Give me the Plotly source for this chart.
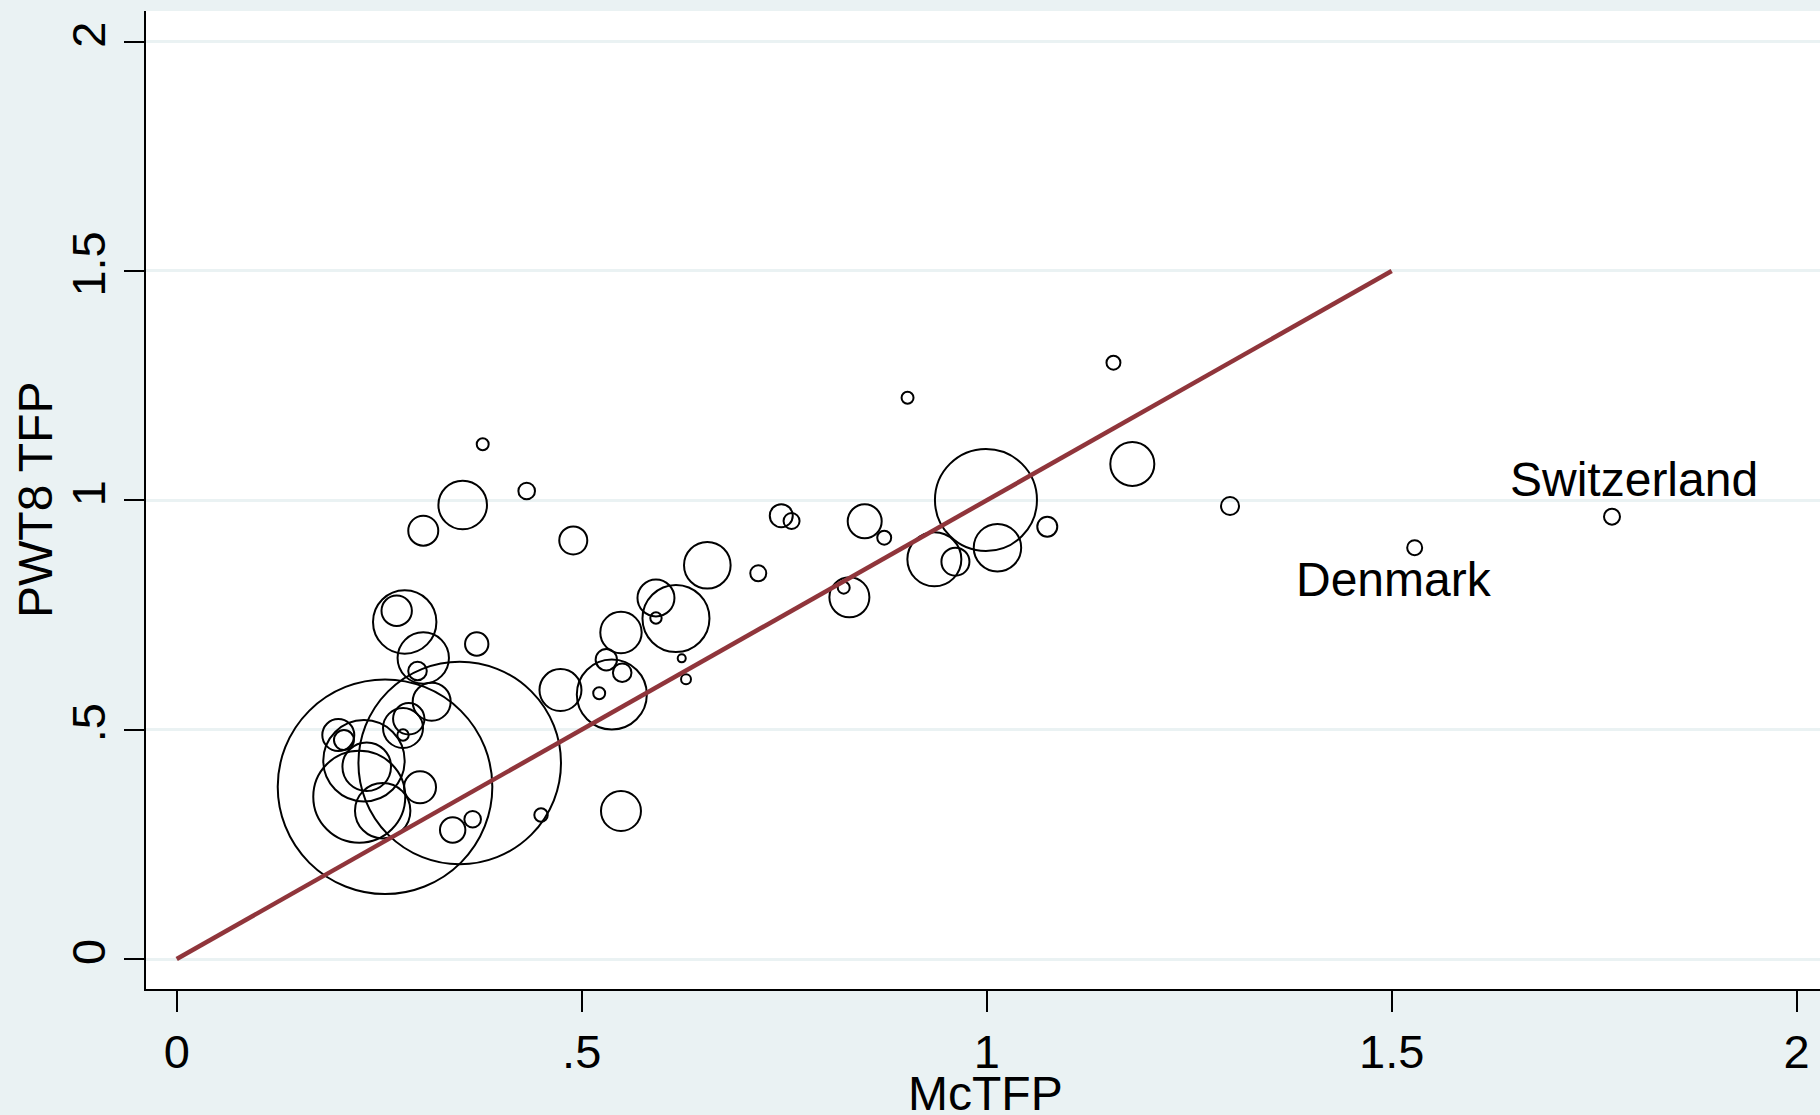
import numpy as np
import plotly.graph_objects as go

# McTFP (x) vs PWT8 TFP (y), bubble area proportional to population (millions)
mctfp = [0.3778, 0.3531, 0.4321, 0.3044, 0.4896, 0.6551, 0.5917, 0.6164, 0.5917, 0.5485,
         0.6235, 0.6288, 0.5304, 0.5500, 0.5372, 0.5216, 0.4738, 0.3704, 0.2815, 0.2716,
         0.3044, 0.2973, 0.3148, 0.2865, 0.2794, 0.2794, 0.1995, 0.2065, 0.2312, 0.2346,
         0.2254, 0.2543, 0.3004, 0.2572, 0.3494, 0.3407, 0.3654, 0.4498, 0.5485, 0.9023,
         0.7464, 0.7591, 0.8494, 0.8735, 0.7180, 0.8305, 0.8235, 0.9991, 0.9354, 0.9614,
         1.0133, 1.0748, 1.1565, 1.1798, 1.3004, 1.5284, 1.7720]
pwt8_tfp = [1.1221, 0.9898, 1.0203, 0.9337, 0.9124, 0.8583, 0.7870, 0.7423, 0.7434, 0.7118,
            0.6555, 0.6100, 0.6525, 0.6242, 0.5766, 0.5793, 0.5864, 0.6867, 0.7347, 0.7591,
            0.6562, 0.6279, 0.5609, 0.5237, 0.5036, 0.4883, 0.4883, 0.4774, 0.4323, 0.4192,
            0.3538, 0.3233, 0.3743, 0.3756, 0.4273, 0.2812, 0.3046, 0.3139, 0.3226, 1.2237,
            0.9664, 0.9549, 0.9542, 0.9185, 0.8409, 0.7885, 0.8095, 1.0007, 0.8714, 0.8661,
            0.8967, 0.9425, 1.3000, 1.0791, 0.9876, 0.8967, 0.9643]
population = [4.2, 69.2, 8.1, 26.4, 23.0, 63.7, 40.1, 131.6, 3.8, 50.2,
              1.9, 2.9, 13.4, 10.1, 143.6, 4.2, 51.7, 16.0, 117.8, 27.1,
              77.4, 10.1, 42.3, 28.9, 46.9, 3.8, 30.0, 11.7, 194.2, 69.2,
              248.1, 90.0, 30.0, 1350.0, 1203.0, 18.9, 8.1, 5.3, 46.9, 4.2,
              15.5, 7.5, 33.9, 5.7, 7.5, 46.9, 4.2, 305.0, 85.5, 23.0,
              65.9, 11.7, 5.7, 56.8, 9.5, 6.6, 7.5]

# Labelled countries: (name, McTFP, PWT8 TFP, label offset in px)
labelled = [("Switzerland", 1.7720, 0.9643, 22, 37),
            ("Denmark", 1.5284, 0.8967, -21, -32)]

# 45-degree reference line
line_x = [0.0, 1.5]
line_y = [0.0, 1.5]

x_ticks = [0, 0.5, 1, 1.5, 2]
x_ticktext = ["0", ".5", "1", "1.5", "2"]
y_ticks = [0, 0.5, 1, 1.5, 2]
y_ticktext = ["0", ".5", "1", "1.5", "2"]

BG = "#EAF2F3"
FONT = "Liberation Sans, Arial, sans-serif"
MAX_RADIUS = 107.3

pop = np.array(population)
diam = 2 * MAX_RADIUS * np.sqrt(pop / pop.max())

fig = go.Figure()
fig.add_trace(go.Scatter(
    x=mctfp, y=pwt8_tfp, mode="markers",
    marker=dict(symbol="circle-open", size=diam, color="black", opacity=1,
                line=dict(width=2, color="black")),
    hoverinfo="skip", showlegend=False,
))
fig.add_trace(go.Scatter(
    x=line_x, y=line_y, mode="lines",
    line=dict(color="#90353B", width=4.5),
    hoverinfo="skip", showlegend=False,
))

for name, lx, ly, dx, dy in labelled:
    fig.add_annotation(x=lx, y=ly, xref="x", yref="y", text=name, showarrow=False,
                       xanchor="center", yanchor="middle", xshift=dx, yshift=dy,
                       font=dict(family=FONT, size=48, color="black"))

fig.add_annotation(x=0.5, y=0, xref="paper", yref="paper", text="McTFP", showarrow=False,
                   xanchor="center", yanchor="middle", xshift=2, yshift=-104,
                   font=dict(family=FONT, size=48, color="black"))
fig.add_annotation(x=0, y=0.5, xref="paper", yref="paper", text="PWT8 TFP", showarrow=False,
                   textangle=-90, xanchor="center", yanchor="middle", xshift=-111,
                   font=dict(family=FONT, size=48, color="black"))

fig.update_layout(
    width=1820, height=1115,
    margin=dict(l=146, r=0, t=11, b=126, pad=0),
    paper_bgcolor=BG, plot_bgcolor="white",
    font=dict(family=FONT, color="black"),
    xaxis=dict(range=[-0.0379, 2.0288], tickvals=x_ticks, ticktext=x_ticktext,
               showgrid=False, zeroline=False, showline=True, linecolor="black",
               linewidth=2, ticks="outside", ticklen=21, tickwidth=2, tickcolor="black",
               tickfont=dict(family=FONT, size=47, color="black")),
    yaxis=dict(range=[-0.0654, 2.0667], tickvals=y_ticks, ticktext=y_ticktext,
               showgrid=True, gridcolor=BG, gridwidth=3, zeroline=False,
               showline=True, linecolor="black", linewidth=2, ticks="outside",
               ticklen=20, tickwidth=2, tickcolor="black", tickangle=-90,
               tickfont=dict(family=FONT, size=47, color="black")),
)

fig.write_html("out.html")
